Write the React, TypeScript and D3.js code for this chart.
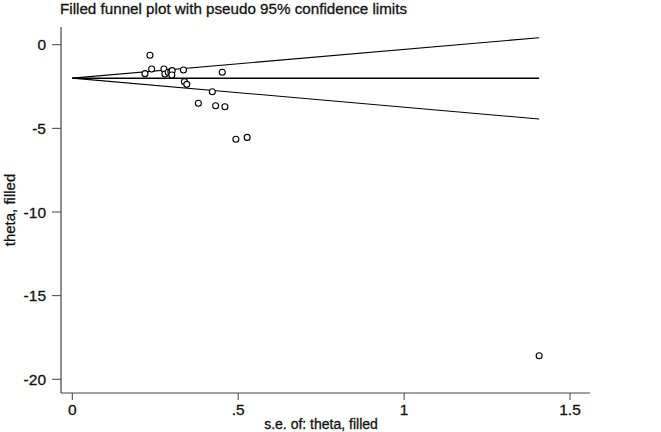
import React, { useEffect, useRef } from 'react';
import * as d3 from 'd3';

// study estimates (standard error, theta)
const studySE = [0.234, 0.219, 0.239, 0.276, 0.279, 0.289, 0.297, 0.301, 0.300, 0.335, 0.452, 0.338, 0.345, 0.422, 0.380, 0.432, 0.460, 0.493, 0.527, 1.407];
const studyTheta = [-0.63, -1.73, -1.45, -1.45, -1.75, -1.65, -1.61, -1.55, -1.81, -1.51, -1.65, -2.21, -2.37, -2.81, -3.50, -3.65, -3.71, -5.65, -5.54, -18.59];

// pseudo 95% limits
const funnelSE = [0, 1.407];
const funnelCenter = [-2.0, -2.0];
const funnelUpper = [-2.0, 0.42];
const funnelLower = [-2.0, -4.44];

const xTicks = [0, 0.5, 1, 1.5];
const xTickLabels = ['0', '.5', '1', '1.5'];
const yTicks = [0, -5, -10, -15, -20];

const title = 'Filled funnel plot with pseudo 95% confidence limits';
const xTitle = 's.e. of: theta, filled';
const yTitle = 'theta, filled';

const width = 661;
const height = 432;

function FunnelPlot() {
    const ref = useRef<SVGSVGElement>(null);

    useEffect(() => {
        const svg = d3.select(ref.current);
        svg.selectAll('*').remove();

        const x = d3.scaleLinear().domain([0, 1.5]).range([72.3, 570]);
        const y = d3.scaleLinear().domain([-20, 0]).range([379.3, 44.7]);
        const font = 'Liberation Sans, Arial, sans-serif';

        const label = (sel: any, size: number) => sel
            .attr('font-family', font)
            .attr('font-size', size)
            .attr('fill', '#111')
            .attr('stroke', '#111')
            .attr('stroke-width', 0.3);

        // title
        svg.append('text')
            .attr('x', 60)
            .attr('y', 14)
            .call(label, 15.2)
            .text(title);

        // y axis
        const yAxis = svg.append('g').attr('transform', 'translate(61,0)');
        yAxis.append('line')
            .attr('y1', 27).attr('y2', 393)
            .attr('stroke', '#444').attr('stroke-width', 1.2);
        yTicks.forEach(t => {
            yAxis.append('line')
                .attr('x1', -9).attr('x2', 0)
                .attr('y1', y(t)).attr('y2', y(t))
                .attr('stroke', '#444');
            yAxis.append('text')
                .attr('x', -15)
                .attr('y', y(t))
                .attr('dy', '0.36em')
                .attr('text-anchor', 'end')
                .call(label, 15.5)
                .text(t);
        });
        svg.append('text')
            .attr('transform', `translate(15,${(27 + 393) / 2}) rotate(-90)`)
            .attr('text-anchor', 'middle')
            .call(label, 15)
            .text(yTitle);

        // x axis
        const xAxis = svg.append('g').attr('transform', 'translate(0,393)');
        xAxis.append('line')
            .attr('x1', 61).attr('x2', 590)
            .attr('stroke', '#444').attr('stroke-width', 1.2);
        xTicks.forEach((t, i) => {
            xAxis.append('line')
                .attr('x1', x(t)).attr('x2', x(t))
                .attr('y1', 0).attr('y2', 7)
                .attr('stroke', '#444');
            xAxis.append('text')
                .attr('x', x(t))
                .attr('y', 22)
                .attr('text-anchor', 'middle')
                .call(label, 15.5)
                .text(xTickLabels[i]);
        });
        svg.append('text')
            .attr('x', (72 + 570) / 2)
            .attr('y', 429)
            .attr('text-anchor', 'middle')
            .call(label, 14)
            .text(xTitle);

        // funnel lines
        const line = d3.line<number>()
            .x((_, i) => x(funnelSE[i]))
            .y(d => y(d));
        [funnelUpper, funnelLower].forEach(arr => {
            svg.append('path')
                .attr('d', line(arr))
                .attr('fill', 'none')
                .attr('stroke', '#000')
                .attr('stroke-width', 1.1);
        });
        svg.append('path')
            .attr('d', line(funnelCenter))
            .attr('fill', 'none')
            .attr('stroke', '#000')
            .attr('stroke-width', 1.5);

        // points
        svg.append('g')
            .selectAll('circle')
            .data(studySE)
            .enter()
            .append('circle')
            .attr('cx', d => x(d))
            .attr('cy', (_, i) => y(studyTheta[i]))
            .attr('r', 3)
            .attr('fill', '#fff')
            .attr('stroke', '#000')
            .attr('stroke-width', 1.1);
    }, []);

    return (
        <svg ref={ref} width={width} height={height}
            style={{ position: 'absolute', left: 0, top: 0, background: '#fff' }} />
    );
}

export default function App() {
    return <FunnelPlot />;
}
